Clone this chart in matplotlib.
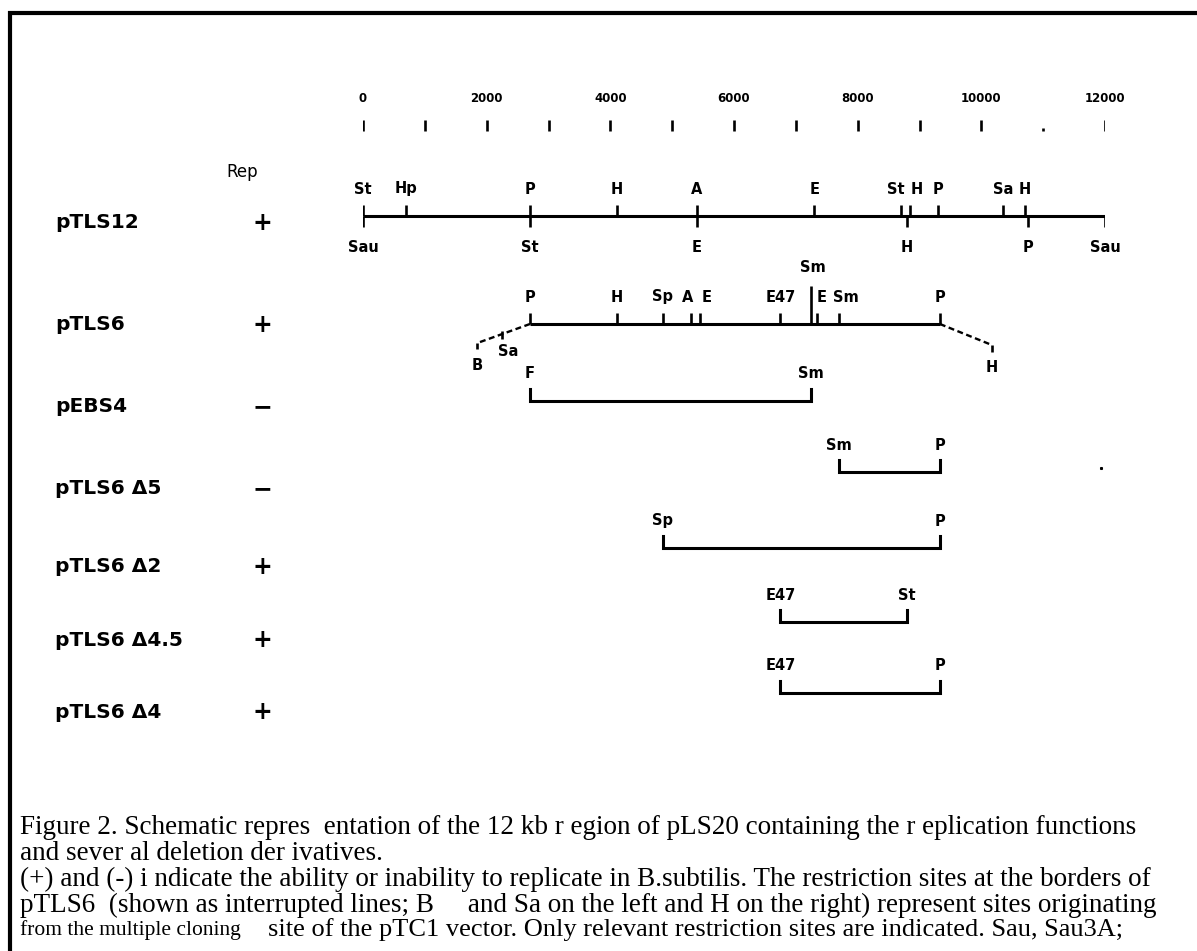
import numpy as np
import matplotlib.pyplot as plt
from matplotlib.lines import Line2D

W, H = 1197, 951
BP_PER_PX = 12000 / 742

# scale bar (bp)
scale_ticks = np.arange(0, 12001, 1000)
scale_labels = np.arange(0, 12001, 2000)

# pTLS12 restriction map
ptls12_top = ["St", "Hp", "P", "H", "A", "E", "St", "H", "P", "Sa", "H"]
ptls12_top_bp = [0, 700, 2700, 4100, 5400, 7300, 8700, 8850, 9300, 10350, 10700]
ptls12_bot = ["Sau", "St", "E", "H", "P", "Sau"]
ptls12_bot_bp = [0, 2700, 5400, 8800, 10750, 12000]

# pTLS6 map
ptls6_sites = ["P", "H", "Sp", "A", "E", "E47", "Sm", "E", "Sm", "P"]
ptls6_bp = [2700, 4100, 4850, 5300, 5450, 6750, 7250, 7350, 7700, 9330]
ptls6_left = ["B", "Sa"]
ptls6_left_bp = [1850, 2250]
ptls6_right = ["H"]
ptls6_right_bp = [10170]

# constructs
names = ["pTLS12", "pTLS6", "pEBS4", "pTLS6 Δ5", "pTLS6 Δ2", "pTLS6 Δ4.5", "pTLS6 Δ4"]
rep = ["+", "+", "\u2212", "\u2212", "+", "+", "+"]
frag_left = ["F", "Sm", "Sp", "E47", "E47"]
frag_left_bp = [2700, 7700, 4850, 6750, 6750]
frag_right = ["Sm", "P", "P", "St", "P"]
frag_right_bp = [7250, 9330, 9330, 8800, 9330]

caption = [
    "Figure 2. Schematic repres  entation of the 12 kb r egion of pLS20 containing the r eplication functions",
    "and sever al deletion der ivatives.",
    "(+) and (-) i ndicate the ability or inability to replicate in B.subtilis. The restriction sites at the borders of",
    "pTLS6  (shown as interrupted lines; B     and Sa on the left and H on the right) represent sites originating",
]
caption_last = ["from the multiple cloning",
                "site of the pTC1 vector. Only relevant restriction sites are indicated. Sau, Sau3A;"]

# layout (pixel rows)
line_y = [216, 324, 401, 472, 548, 622, 693]
name_y = [223, 325, 407, 489, 567, 640, 712]
cap_y = [828, 854, 879, 905, 930]

fig = plt.figure(figsize=(W / 100, H / 100), dpi=100)
ax = fig.add_axes([363 / W, 0, 742 / W, 1])
ax.set_xlim(0, 12000)
ax.set_ylim(H, 0)
ax.axis("off")

lw = 2.2
tk = dict(color="black", lw=1.9, solid_capstyle="butt")
lab = dict(fontsize=10.5, fontweight="bold", family="DejaVu Sans", ha="center", va="center")

# frame (top and left only)
fig.add_artist(Line2D([8 / W, 1], [1 - 13 / H] * 2, color="black", lw=3,
                      solid_capstyle="butt", transform=fig.transFigure))
fig.add_artist(Line2D([10 / W] * 2, [1 - 11 / H, 0], color="black", lw=3,
                      solid_capstyle="butt", transform=fig.transFigure))

# scale
for t in scale_ticks:
    h = 3 if t == 11000 else 11
    ax.plot([t, t], [131 - h, 131], **tk)
for t in scale_labels:
    ax.text(t, 98, str(t), fontsize=8.5, fontweight="bold", ha="center", va="center")

# row labels
fig.text(242 / W, 1 - 172 / H, "Rep", fontsize=12, ha="center", va="center")
for n, r, y in zip(names, rep, name_y):
    fig.text(55 / W, 1 - y / H, n, fontsize=14.5, fontweight="bold", ha="left", va="center")
    fig.text(262 / W, 1 - y / H, r, fontsize=17, fontweight="bold", ha="center", va="center")

# pTLS12
y0 = line_y[0]
ax.plot([0, 12000], [y0, y0], color="black", lw=lw, solid_capstyle="butt")
top_dx = {6: -5, 7: 7}
for i, (s, b) in enumerate(zip(ptls12_top, ptls12_top_bp)):
    ax.plot([b, b], [y0 - 11, y0], **tk)
    ax.text(b + top_dx.get(i, 0) * BP_PER_PX, y0 - 27, s, **lab)
for s, b in zip(ptls12_bot, ptls12_bot_bp):
    ax.plot([b, b], [y0, y0 + 11], **tk)
    ax.text(b, y0 + 32, s, **lab)

# pTLS6
y1 = line_y[1]
ax.plot([ptls6_bp[0], ptls6_bp[-1]], [y1, y1], color="black", lw=lw, solid_capstyle="butt")
p6_dx = {3: -3, 4: 7, 7: 4, 8: 7}
for i, (s, b) in enumerate(zip(ptls6_sites, ptls6_bp)):
    if i == 6:
        ax.plot([b, b], [y1 - 38, y1], **tk)
        ax.text(b + 2 * BP_PER_PX, y1 - 56, s, **lab)
        continue
    ax.plot([b, b], [y1 - 11, y1], **tk)
    ax.text(b + p6_dx.get(i, 0) * BP_PER_PX, y1 - 27, s, **lab)

dash = dict(color="black", lw=1.7, ls=(0, (2.5, 1.5)))
bl, sa = ptls6_left_bp
ax.plot([ptls6_bp[0], bl], [y1, y1 + 19], **dash)
ax.plot([bl, bl], [y1 + 19, y1 + 25], **tk)
ax.plot([sa, sa], [y1 + 7, y1 + 15], **tk)
ax.text(bl, y1 + 42, ptls6_left[0], **lab)
ax.text(sa + 6 * BP_PER_PX, y1 + 27, ptls6_left[1], **lab)
br = ptls6_right_bp[0]
ax.plot([ptls6_bp[-1], br], [y1, y1 + 21], **dash)
ax.plot([br, br], [y1 + 21, y1 + 28], **tk)
ax.text(br, y1 + 43, ptls6_right[0], **lab)

# deletion fragments
for y, ls, lb, rs, rb in zip(line_y[2:], frag_left, frag_left_bp, frag_right, frag_right_bp):
    ax.plot([lb, lb, rb, rb], [y - 12, y, y, y - 12], color="black", lw=lw,
            solid_joinstyle="miter")
    ax.text(lb, y - 27, ls, **lab)
    ax.text(rb, y - 27, rs, **lab)

# stray dot
ax.plot([11930], [468], marker="s", ms=1.2, color="black")

# caption
for t, y in zip(caption, cap_y):
    fig.text(20 / W, 1 - y / H, t, fontsize=19.5, family="Liberation Serif",
             ha="left", va="center")
fig.text(20 / W, 1 - cap_y[-1] / H, caption_last[0], fontsize=15.5,
         family="Liberation Serif", ha="left", va="center")
fig.text(268 / W, 1 - cap_y[-1] / H, caption_last[1], fontsize=19,
         family="Liberation Serif", ha="left", va="center")

fig.savefig("out.png", dpi=100, facecolor="white")
